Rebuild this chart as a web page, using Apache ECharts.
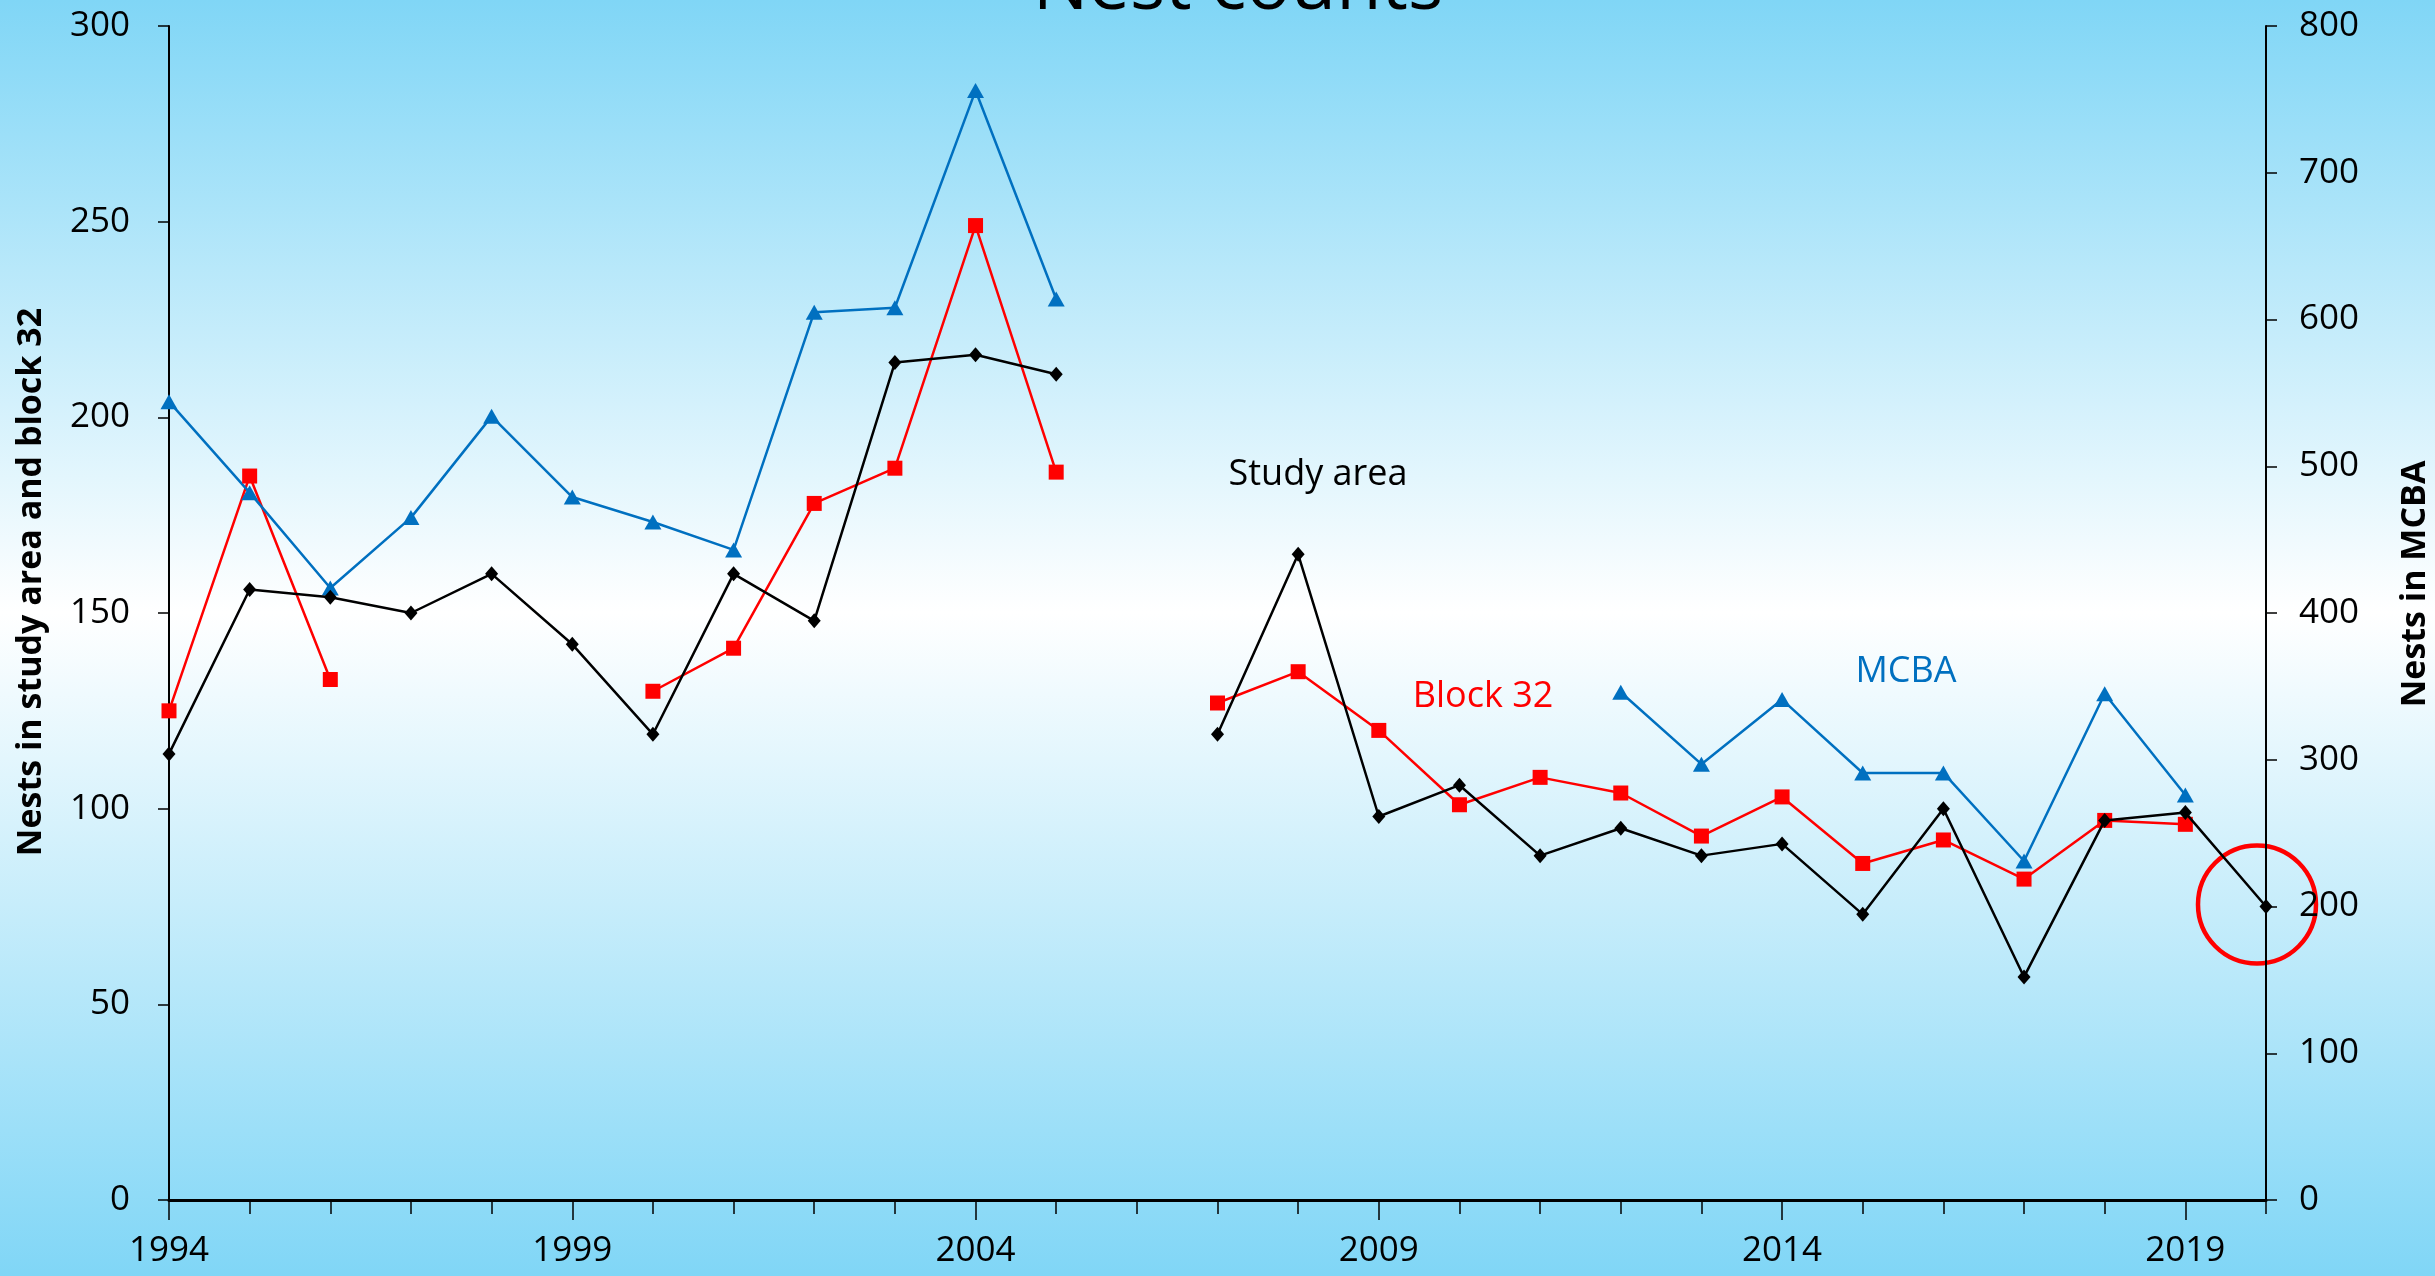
<!DOCTYPE html>
<html>
<head>
<meta charset="utf-8">
<script src="https://cdn.jsdelivr.net/npm/echarts@6/dist/echarts.min.js"></script>
<style>
html,body{margin:0;padding:0;width:100%;height:100%;overflow:hidden;}
#c{width:2435px;height:1276px;background:linear-gradient(to bottom,#80d6f6 0%,#ffffff 48%,#80d6f6 100%);}
</style>
</head>
<body>
<div id="c"></div>
<script>
var years = [1994,1995,1996,1997,1998,1999,2000,2001,2002,2003,2004,2005,2006,2007,2008,2009,2010,2011,2012,2013,2014,2015,2016,2017,2018,2019,2020];
var studyArea = [114,156,154,150,160,142,119,160,148,214,216,211,null,119,165,98,106,88,95,88,91,73,100,57,97,99,75];
var block32 = [125,185,133,null,null,null,130,141,178,187,249,186,null,127,135,120,101,108,104,93,103,86,92,82,97,96,null];
var mcba = [544,482,417,465,534,479,462,443,605,608,756,614,null,null,null,null,null,null,346,297,341,291,291,231,345,276,null];
var leftTicks = {min:0,max:300,interval:50};
var rightTicks = {min:0,max:800,interval:100};
var titleText = 'Nest counts';
var leftName = 'Nests in study area and block 32';
var rightName = 'Nests in MCBA';

function pairs(arr){ return years.map(function(y,i){ return [y, arr[i]]; }); }

var FONT = 'Open Sans';
var chart = echarts.init(document.getElementById('c'));
var option = {
  animation:false,
  grid:{left:169,right:169,top:26,bottom:76,containLabel:false},
  xAxis:[
    {type:'value',min:1994,max:2020,interval:1,
     axisLine:{show:true,lineStyle:{color:'#000',width:3}},
     axisTick:{show:true,length:14,lineStyle:{color:'#000',width:1.5}},
     axisLabel:{show:false},splitLine:{show:false}},
    {type:'value',min:1994,max:2020,interval:5,position:'bottom',
     axisLine:{show:false},
     axisTick:{show:true,length:20,lineStyle:{color:'#000',width:1.5}},
     axisLabel:{show:true,margin:34,color:'#000',fontFamily:FONT,fontSize:35,showMaxLabel:false,
       formatter:function(v){return String(v);}},
     splitLine:{show:false}}
  ],
  yAxis:[
    {type:'value',position:'left',min:leftTicks.min,max:leftTicks.max,interval:leftTicks.interval,
     axisLine:{show:true,lineStyle:{color:'#000',width:2}},
     axisTick:{show:true,length:11,lineStyle:{color:'#000',width:1.5}},
     axisLabel:{margin:39,color:'#000',fontFamily:FONT,fontSize:35},
     splitLine:{show:false}},
    {type:'value',position:'right',min:rightTicks.min,max:rightTicks.max,interval:rightTicks.interval,
     axisLine:{show:true,lineStyle:{color:'#000',width:2}},
     axisTick:{show:true,length:11,lineStyle:{color:'#000',width:1.5}},
     axisLabel:{margin:33,color:'#000',fontFamily:FONT,fontSize:35},
     splitLine:{show:false}}
  ],
  series:[
    {name:'Study area',type:'line',xAxisIndex:0,yAxisIndex:0,data:pairs(studyArea),
     symbol:'diamond',symbolSize:[13,15],itemStyle:{color:'#000'},lineStyle:{color:'#000',width:2.5},z:3},
    {name:'Block 32',type:'line',xAxisIndex:0,yAxisIndex:0,data:pairs(block32),
     symbol:'rect',symbolSize:15,itemStyle:{color:'#ff0000'},lineStyle:{color:'#ff0000',width:2.5},z:2},
    {name:'MCBA',type:'line',xAxisIndex:0,yAxisIndex:1,data:pairs(mcba),
     symbol:'triangle',symbolSize:[17,15],itemStyle:{color:'#0070c0'},lineStyle:{color:'#0070c0',width:2.5},z:2}
  ]
};
chart.setOption(option);

var p = chart.convertToPixel({xAxisIndex:0,yAxisIndex:0},[2020,75]);
chart.setOption({
  graphic:[
    {type:'text',x:1238,y:-49,z:100,style:{text:titleText,font:'74px "Open Sans"',fill:'#000',textAlign:'center',textVerticalAlign:'top'}},
    {type:'text',rotation:Math.PI/2,x:31,y:582,style:{text:leftName,font:'bold 34px "Open Sans"',fill:'#000',textAlign:'center',textVerticalAlign:'middle'}},
    {type:'text',rotation:Math.PI/2,x:2415,y:584,style:{text:rightName,font:'bold 34px "Open Sans"',fill:'#000',textAlign:'center',textVerticalAlign:'middle'}},
    {type:'text',x:1318,y:475,style:{text:'Study area',font:'36px "Open Sans"',fill:'#000',textAlign:'center',textVerticalAlign:'middle'}},
    {type:'text',x:1483,y:697,style:{text:'Block 32',font:'36px "Open Sans"',fill:'#ff0000',textAlign:'center',textVerticalAlign:'middle'}},
    {type:'text',x:1906,y:672,style:{text:'MCBA',font:'36px "Open Sans"',fill:'#0070c0',textAlign:'center',textVerticalAlign:'middle'}},
    {type:'circle',shape:{cx:p[0]-9,cy:p[1]-2,r:59},style:{fill:'none',stroke:'#ff0000',lineWidth:4.5}}
  ]
});
</script>
</body>
</html>
